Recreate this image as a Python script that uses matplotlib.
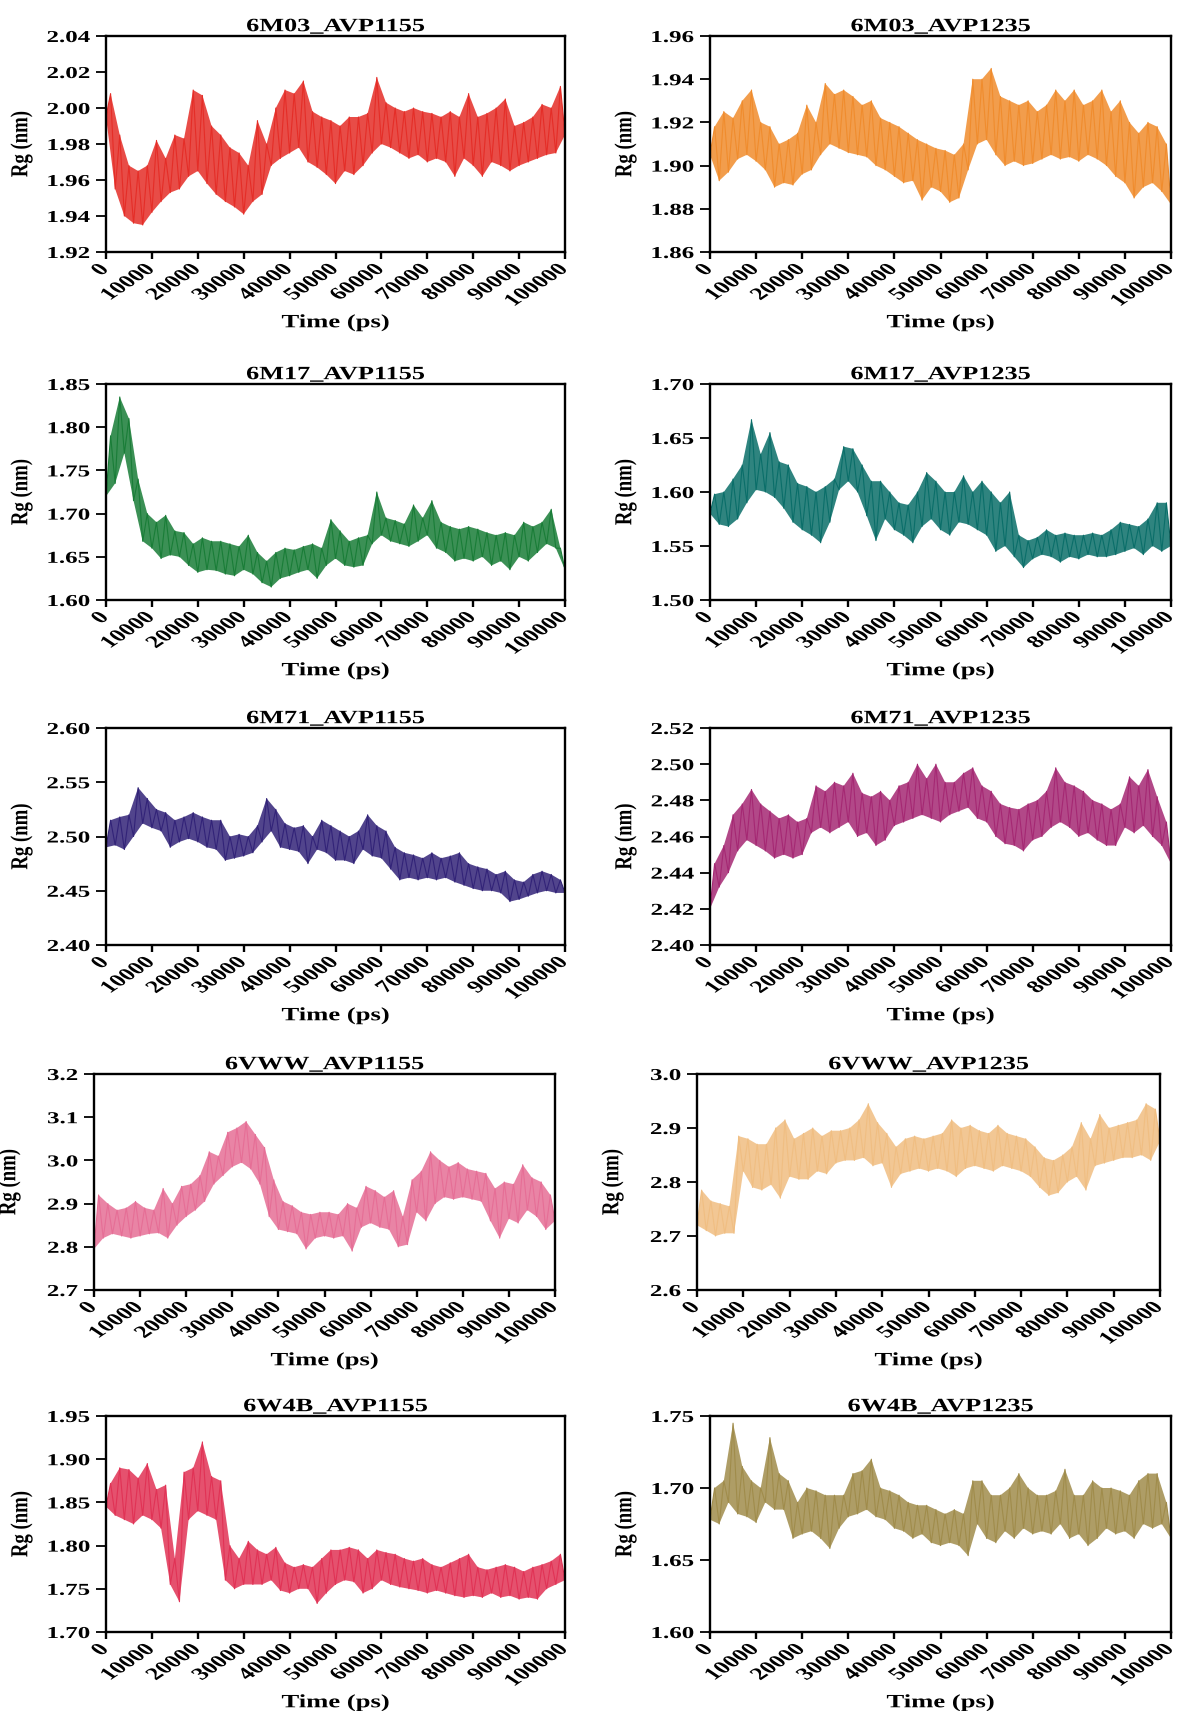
import numpy as np
import matplotlib
matplotlib.use('Agg')
import matplotlib.pyplot as plt
from matplotlib.patheffects import AbstractPathEffect
from matplotlib.transforms import Affine2D

# lo values sit at 0, 2000, 4000 ... ps ; hi values at 1000, 3000, 5000 ... ps
m03_1155_lo = [1.995, 1.955, 1.940, 1.936, 1.935, 1.942, 1.948, 1.953, 1.955, 1.962, 1.965, 1.958, 1.952,
               1.948, 1.945, 1.941, 1.948, 1.952, 1.968, 1.972, 1.975, 1.978, 1.970, 1.967, 1.963, 1.958,
               1.965, 1.963, 1.968, 1.975, 1.980, 1.978, 1.975, 1.972, 1.974, 1.970, 1.972, 1.970, 1.962,
               1.972, 1.968, 1.962, 1.970, 1.968, 1.965, 1.968, 1.970, 1.972, 1.974, 1.975, 1.985]
m03_1155_hi = [2.008, 1.985, 1.968, 1.965, 1.968, 1.982, 1.972, 1.985, 1.983, 2.010, 2.007, 1.990, 1.985,
               1.978, 1.975, 1.968, 1.993, 1.980, 2.000, 2.010, 2.008, 2.015, 1.998, 1.995, 1.993, 1.990,
               1.995, 1.995, 1.997, 2.017, 2.003, 2.000, 1.998, 2.000, 1.998, 1.997, 1.995, 1.998, 1.995,
               2.008, 1.995, 1.997, 2.000, 2.005, 1.990, 1.992, 1.995, 2.002, 2.000, 2.012]

m03_1235_lo = [1.905, 1.893, 1.897, 1.903, 1.905, 1.902, 1.898, 1.890, 1.892, 1.891, 1.896, 1.898, 1.905,
               1.910, 1.908, 1.906, 1.905, 1.904, 1.900, 1.898, 1.895, 1.892, 1.893, 1.884, 1.890, 1.888,
               1.883, 1.885, 1.898, 1.910, 1.912, 1.905, 1.900, 1.902, 1.900, 1.901, 1.903, 1.905, 1.903,
               1.904, 1.902, 1.905, 1.903, 1.900, 1.895, 1.892, 1.885, 1.890, 1.892, 1.888, 1.882]
m03_1235_hi = [1.918, 1.925, 1.922, 1.930, 1.935, 1.920, 1.918, 1.910, 1.912, 1.915, 1.928, 1.920, 1.938,
               1.933, 1.935, 1.932, 1.928, 1.930, 1.922, 1.920, 1.918, 1.915, 1.912, 1.910, 1.908, 1.907,
               1.905, 1.910, 1.940, 1.940, 1.945, 1.932, 1.930, 1.928, 1.930, 1.925, 1.928, 1.935, 1.930,
               1.935, 1.928, 1.930, 1.935, 1.925, 1.930, 1.920, 1.915, 1.920, 1.918, 1.910]

m17_1155_lo = [1.720, 1.735, 1.770, 1.715, 1.668, 1.660, 1.648, 1.652, 1.650, 1.640, 1.632, 1.635, 1.634,
               1.630, 1.628, 1.635, 1.630, 1.620, 1.615, 1.625, 1.628, 1.632, 1.635, 1.625, 1.640, 1.648,
               1.640, 1.638, 1.640, 1.665, 1.675, 1.668, 1.665, 1.662, 1.668, 1.675, 1.660, 1.655, 1.645,
               1.648, 1.645, 1.650, 1.640, 1.645, 1.635, 1.650, 1.645, 1.655, 1.665, 1.660, 1.635]
m17_1155_hi = [1.790, 1.835, 1.810, 1.740, 1.700, 1.690, 1.698, 1.680, 1.678, 1.665, 1.672, 1.668, 1.668,
               1.665, 1.662, 1.675, 1.655, 1.645, 1.655, 1.660, 1.658, 1.662, 1.665, 1.660, 1.693, 1.680,
               1.668, 1.672, 1.675, 1.725, 1.695, 1.692, 1.688, 1.710, 1.695, 1.715, 1.690, 1.685, 1.682,
               1.685, 1.682, 1.678, 1.675, 1.678, 1.675, 1.690, 1.685, 1.690, 1.705, 1.660]

m17_1235_lo = [1.580, 1.570, 1.568, 1.575, 1.590, 1.602, 1.600, 1.595, 1.585, 1.572, 1.565, 1.560, 1.553,
               1.572, 1.602, 1.610, 1.600, 1.578, 1.555, 1.575, 1.565, 1.560, 1.553, 1.568, 1.575, 1.565,
               1.560, 1.572, 1.570, 1.565, 1.560, 1.545, 1.550, 1.540, 1.530, 1.538, 1.542, 1.540, 1.535,
               1.540, 1.538, 1.542, 1.540, 1.540, 1.542, 1.545, 1.548, 1.542, 1.550, 1.545, 1.550]
m17_1235_hi = [1.598, 1.600, 1.612, 1.625, 1.667, 1.635, 1.655, 1.628, 1.625, 1.608, 1.605, 1.600, 1.605,
               1.612, 1.642, 1.640, 1.625, 1.610, 1.610, 1.600, 1.590, 1.588, 1.600, 1.618, 1.610, 1.600,
               1.600, 1.615, 1.600, 1.610, 1.600, 1.590, 1.600, 1.560, 1.555, 1.558, 1.565, 1.560, 1.562,
               1.560, 1.560, 1.562, 1.560, 1.565, 1.572, 1.570, 1.568, 1.575, 1.590, 1.590]

m71_1155_lo = [2.490, 2.492, 2.488, 2.500, 2.512, 2.508, 2.505, 2.490, 2.495, 2.498, 2.495, 2.490, 2.488,
               2.478, 2.480, 2.482, 2.485, 2.495, 2.505, 2.490, 2.488, 2.486, 2.475, 2.488, 2.485, 2.478,
               2.478, 2.475, 2.488, 2.482, 2.480, 2.470, 2.460, 2.462, 2.460, 2.462, 2.460, 2.462, 2.458,
               2.455, 2.452, 2.450, 2.450, 2.448, 2.440, 2.442, 2.445, 2.448, 2.450, 2.448, 2.448]
m71_1155_hi = [2.515, 2.518, 2.520, 2.545, 2.535, 2.525, 2.522, 2.515, 2.518, 2.522, 2.518, 2.515, 2.515,
               2.500, 2.502, 2.500, 2.510, 2.535, 2.525, 2.512, 2.508, 2.510, 2.500, 2.515, 2.510, 2.505,
               2.500, 2.505, 2.520, 2.510, 2.505, 2.490, 2.485, 2.483, 2.480, 2.485, 2.480, 2.482, 2.485,
               2.475, 2.472, 2.470, 2.465, 2.468, 2.460, 2.458, 2.465, 2.468, 2.465, 2.460]

m71_1235_lo = [2.420, 2.432, 2.440, 2.452, 2.458, 2.455, 2.452, 2.448, 2.450, 2.448, 2.450, 2.462, 2.465,
               2.462, 2.465, 2.468, 2.460, 2.462, 2.455, 2.458, 2.466, 2.468, 2.470, 2.472, 2.470, 2.468,
               2.472, 2.474, 2.476, 2.470, 2.468, 2.460, 2.456, 2.455, 2.452, 2.458, 2.460, 2.465, 2.468,
               2.465, 2.460, 2.462, 2.458, 2.455, 2.455, 2.465, 2.462, 2.466, 2.460, 2.455, 2.445]
m71_1235_hi = [2.445, 2.455, 2.472, 2.478, 2.486, 2.478, 2.474, 2.470, 2.472, 2.468, 2.470, 2.488, 2.485,
               2.490, 2.488, 2.495, 2.484, 2.482, 2.485, 2.480, 2.488, 2.490, 2.500, 2.492, 2.500, 2.490,
               2.490, 2.495, 2.498, 2.488, 2.485, 2.478, 2.476, 2.475, 2.478, 2.480, 2.485, 2.498, 2.490,
               2.488, 2.485, 2.480, 2.478, 2.475, 2.478, 2.493, 2.488, 2.497, 2.482, 2.468]

vww_1155_lo = [2.795, 2.820, 2.830, 2.825, 2.820, 2.825, 2.830, 2.832, 2.820, 2.850, 2.870, 2.885, 2.905,
               2.945, 2.965, 2.985, 2.995, 2.980, 2.945, 2.870, 2.840, 2.835, 2.830, 2.795, 2.820, 2.825,
               2.820, 2.825, 2.790, 2.845, 2.855, 2.845, 2.840, 2.800, 2.805, 2.880, 2.860, 2.900, 2.915,
               2.910, 2.915, 2.910, 2.905, 2.860, 2.820, 2.865, 2.855, 2.885, 2.870, 2.840, 2.860]
vww_1155_hi = [2.920, 2.900, 2.885, 2.890, 2.905, 2.890, 2.885, 2.935, 2.900, 2.940, 2.945, 2.965, 3.020,
               3.010, 3.065, 3.075, 3.090, 3.060, 3.030, 2.955, 2.905, 2.895, 2.880, 2.875, 2.880, 2.880,
               2.875, 2.900, 2.890, 2.940, 2.930, 2.915, 2.930, 2.870, 2.955, 2.975, 3.020, 3.000, 2.985,
               2.995, 2.980, 2.975, 2.970, 2.935, 2.950, 2.945, 2.990, 2.960, 2.950, 2.920]

vww_1235_lo = [2.720, 2.710, 2.700, 2.705, 2.705, 2.820, 2.790, 2.785, 2.795, 2.770, 2.810, 2.805, 2.805,
               2.820, 2.815, 2.835, 2.840, 2.840, 2.845, 2.830, 2.835, 2.790, 2.815, 2.820, 2.825, 2.820,
               2.825, 2.820, 2.810, 2.825, 2.830, 2.825, 2.820, 2.830, 2.825, 2.820, 2.810, 2.790, 2.775,
               2.780, 2.800, 2.810, 2.785, 2.830, 2.835, 2.840, 2.845, 2.845, 2.850, 2.840, 2.875]
vww_1235_hi = [2.785, 2.765, 2.760, 2.755, 2.885, 2.880, 2.870, 2.870, 2.900, 2.915, 2.880, 2.890, 2.900,
               2.885, 2.895, 2.895, 2.900, 2.915, 2.945, 2.910, 2.890, 2.865, 2.880, 2.885, 2.880, 2.885,
               2.890, 2.915, 2.900, 2.905, 2.895, 2.890, 2.905, 2.890, 2.885, 2.880, 2.865, 2.845, 2.840,
               2.850, 2.865, 2.910, 2.880, 2.925, 2.900, 2.905, 2.910, 2.915, 2.945, 2.935]

w4b_1155_lo = [1.845, 1.835, 1.830, 1.825, 1.835, 1.830, 1.820, 1.755, 1.735, 1.830, 1.840, 1.835, 1.830,
               1.760, 1.750, 1.755, 1.755, 1.755, 1.760, 1.748, 1.745, 1.750, 1.750, 1.733, 1.745, 1.755,
               1.760, 1.758, 1.745, 1.750, 1.760, 1.755, 1.752, 1.750, 1.748, 1.745, 1.748, 1.745, 1.742,
               1.740, 1.742, 1.740, 1.745, 1.740, 1.742, 1.738, 1.740, 1.738, 1.750, 1.755, 1.760]
w4b_1155_hi = [1.872, 1.890, 1.888, 1.878, 1.895, 1.865, 1.870, 1.785, 1.885, 1.890, 1.920, 1.880, 1.875,
               1.800, 1.785, 1.805, 1.795, 1.790, 1.798, 1.780, 1.775, 1.778, 1.775, 1.785, 1.795, 1.795,
               1.798, 1.795, 1.785, 1.795, 1.792, 1.790, 1.785, 1.782, 1.785, 1.778, 1.775, 1.780, 1.785,
               1.790, 1.775, 1.772, 1.775, 1.778, 1.775, 1.770, 1.775, 1.778, 1.782, 1.790]

w4b_1235_lo = [1.678, 1.675, 1.690, 1.682, 1.680, 1.676, 1.690, 1.685, 1.685, 1.665, 1.668, 1.670, 1.665,
               1.658, 1.672, 1.680, 1.682, 1.685, 1.680, 1.678, 1.672, 1.670, 1.665, 1.668, 1.662, 1.660,
               1.662, 1.660, 1.653, 1.675, 1.665, 1.662, 1.670, 1.665, 1.672, 1.668, 1.670, 1.668, 1.675,
               1.665, 1.668, 1.660, 1.665, 1.672, 1.668, 1.670, 1.665, 1.675, 1.672, 1.675, 1.665]
w4b_1235_hi = [1.700, 1.705, 1.745, 1.715, 1.705, 1.700, 1.735, 1.710, 1.705, 1.690, 1.700, 1.698, 1.695,
               1.695, 1.695, 1.710, 1.712, 1.720, 1.700, 1.698, 1.695, 1.690, 1.688, 1.688, 1.685, 1.682,
               1.685, 1.682, 1.705, 1.705, 1.695, 1.695, 1.700, 1.710, 1.700, 1.695, 1.695, 1.698, 1.713,
               1.695, 1.695, 1.705, 1.700, 1.700, 1.698, 1.695, 1.705, 1.710, 1.710, 1.690]

titles = ['6M03_AVP1155', '6M03_AVP1235', '6M17_AVP1155', '6M17_AVP1235', '6M71_AVP1155',
          '6M71_AVP1235', '6VWW_AVP1155', '6VWW_AVP1235', '6W4B_AVP1155', '6W4B_AVP1235']
colours = ['#e52d27', '#f08c2d', '#197d37', '#0a6e69', '#322378',
           '#a52873', '#e66e96', '#f0be82', '#e13255', '#a08c4b']
yticks = [[1.92, 1.94, 1.96, 1.98, 2.00, 2.02, 2.04],
          [1.86, 1.88, 1.90, 1.92, 1.94, 1.96],
          [1.60, 1.65, 1.70, 1.75, 1.80, 1.85],
          [1.50, 1.55, 1.60, 1.65, 1.70],
          [2.40, 2.45, 2.50, 2.55, 2.60],
          [2.40, 2.42, 2.44, 2.46, 2.48, 2.50, 2.52],
          [2.7, 2.8, 2.9, 3.0, 3.1, 3.2],
          [2.6, 2.7, 2.8, 2.9, 3.0],
          [1.70, 1.75, 1.80, 1.85, 1.90, 1.95],
          [1.60, 1.65, 1.70, 1.75]]
ydec = [2, 2, 2, 2, 2, 2, 1, 1, 2, 2]
xticks = [0, 10000, 20000, 30000, 40000, 50000, 60000, 70000, 80000, 90000, 100000]
traces = [(m03_1155_lo, m03_1155_hi), (m03_1235_lo, m03_1235_hi),
          (m17_1155_lo, m17_1155_hi), (m17_1235_lo, m17_1235_hi),
          (m71_1155_lo, m71_1155_hi), (m71_1235_lo, m71_1235_hi),
          (vww_1155_lo, vww_1155_hi), (vww_1235_lo, vww_1235_hi),
          (w4b_1155_lo, w4b_1155_hi), (w4b_1235_lo, w4b_1235_hi)]


class StretchX(AbstractPathEffect):
    """Widen text horizontally (the original figure was stretched)."""
    def __init__(self, sx, anchor='center'):
        super().__init__()
        self.sx = sx
        self.anchor = anchor

    def draw_path(self, renderer, gc, tpath, affine, rgbFace=None):
        ext = tpath.get_extents(affine)
        if self.anchor == 'right':
            x0 = ext.x1
        else:
            x0 = 0.5 * (ext.x0 + ext.x1)
        tr = affine + Affine2D().translate(-x0, 0).scale(self.sx, 1).translate(x0, 0)
        renderer.draw_path(gc, tpath, tr, rgbFace)


def edges(lo, hi):
    tl = np.arange(len(lo)) * 2000
    th = np.arange(len(hi)) * 2000 + 1000
    return tl, np.asarray(lo), th, np.asarray(hi)


plt.rcParams['font.family'] = 'Liberation Serif'
plt.rcParams['font.weight'] = 'bold'

W, H = 1179, 1711
fig = plt.figure(figsize=(W / 100, H / 100), dpi=100, facecolor='white')

rows = [(36, 252), (384, 600), (728, 945), (1074, 1290), (1416, 1632)]
cols = [(106, 565), (710, 1171)]
cols_r4 = [(94, 555), (697, 1160)]

for i in range(10):
    r, c = divmod(i, 2)
    y0, y1 = rows[r]
    x0, x1 = (cols_r4 if r == 3 else cols)[c]
    ax = fig.add_axes([x0 / W, 1 - y1 / H, (x1 - x0) / W, (y1 - y0) / H])

    tl, lo, th, hi = edges(*traces[i])
    # dense band between the two edges, then the jagged trace on top
    ax.fill(np.r_[th, tl[::-1]], np.r_[hi, lo[::-1]], color=colours[i], alpha=0.85, lw=0)
    t = np.r_[tl, th]
    y = np.r_[lo, hi]
    o = np.argsort(t)
    ax.plot(t[o], y[o], color=colours[i], lw=0.8)

    ax.set_xlim(0, 100000)
    ax.set_ylim(yticks[i][0], yticks[i][-1])
    ax.set_yticks(yticks[i])
    ax.set_yticklabels(['%.*f' % (ydec[i], v) for v in yticks[i]])
    ax.set_xticks(xticks)
    ax.set_xticklabels([str(v) for v in xticks], rotation=45, ha='right',
                       va='center', rotation_mode='anchor')

    for s in ax.spines.values():
        s.set_linewidth(1.7)
    ax.tick_params(axis='y', direction='out', length=7.5, width=1.3, pad=4, labelsize=12)
    ax.tick_params(axis='x', direction='out', length=5, width=1.7, pad=6, labelsize=12.5)
    for lab in ax.get_yticklabels():
        lab.set_path_effects([StretchX(1.5, 'right')])
    for lab in ax.get_xticklabels():
        lab.set_path_effects([StretchX(1.5, 'right')])

    ax.set_title(titles[i], fontsize=13.5, fontweight='bold', pad=3.5,
                 path_effects=[StretchX(1.4)])
    ax.set_xlabel('Time (ps)', fontsize=13.5, fontweight='bold',
                  path_effects=[StretchX(1.42)])
    ax.set_ylabel('Rg (nm)', fontsize=13.5, fontweight='bold',
                  path_effects=[StretchX(1.3)])
    ax.xaxis.set_label_coords(0.5, -62 / (y1 - y0))
    ax.yaxis.set_label_coords(-76 / (x1 - x0), 0.5)

fig.savefig('out.png', dpi=100, facecolor='white')
